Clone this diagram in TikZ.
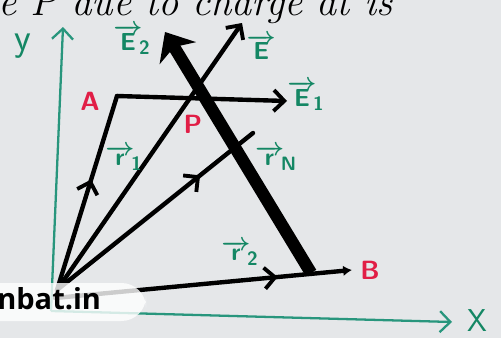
\documentclass[tikz,border=0pt]{standalone}
\usepackage{fontspec}
\newfontfamily\wmfont{Open Sans}
\usetikzlibrary{arrows.meta,decorations.markings}
\definecolor{bg}{RGB}{229,231,233}
\definecolor{axisgreen}{RGB}{40,150,125}
\definecolor{lblgreen}{RGB}{20,135,100}
\definecolor{lblred}{RGB}{225,30,70}
\newcommand\vlab[2]{$\overrightarrow{\mbox{#1}}_{\!\mbox{\fontsize{11}{12}\selectfont #2}}$}
\begin{document}
\begin{tikzpicture}[x=0.02cm,y=-0.02cm,
  axisline/.style={axisgreen, line width=1.3pt, -{Straight Barb[length=6pt,width=12pt,line width=1.3pt]}},
  vecline/.style={line width=2.5pt, line cap=round},
  tipbarb/.style={-{Straight Barb[length=6pt,width=12pt,line width=2.2pt]}},
  midarrow/.style={postaction=decorate, decoration={markings, mark=at position #1 with {\arrow{Straight Barb[length=6pt,width=12pt,line width=2.2pt]}}}},
  glabel/.style={lblgreen, font=\sffamily\bfseries\boldmath\fontsize{14}{16}\selectfont, inner sep=1pt},
  rlabel/.style={lblred, font=\sffamily\bfseries\fontsize{15}{17}\selectfont, inner sep=1pt},
]
\useasboundingbox (0,0) rectangle (501,338);
\fill[bg] (0,0) rectangle (501,338);
\clip (0,0) rectangle (501,338);

% handwritten heading, cut off at the top
\node[anchor=base west, inner sep=0pt, font=\itshape\fontsize{23}{25}\selectfont] (head) at (-2,15) {e P due to charge at is};

% coordinates
\coordinate (O) at (57,290);
\coordinate (O2) at (55,298);
\coordinate (yb) at (51,311);
\coordinate (yt) at (63,27);
\coordinate (xt) at (452,322);
\coordinate (A) at (117,96);
\coordinate (E1t) at (287,101);
\coordinate (Et) at (242,23);
\coordinate (RNt) at (253,133);
\coordinate (Bt) at (352,270);
\coordinate (Rb) at (311,273);
\coordinate (Rt) at (165,32);

% axes
\draw[axisline] (yb) -- (yt);
\draw[axisline] (yb) -- (xt);

% vectors
\draw[vecline, midarrow=0.57] (O) -- (A);
\draw[vecline, tipbarb] (A) -- (E1t);
\draw[vecline, tipbarb] (O) -- (Et);
\draw[vecline, midarrow=0.73] (O) -- (RNt);
\draw[vecline, midarrow=0.75, -{Latex[length=5pt,width=6pt]}] (O2) -- (Bt);

% thick E2 vector
\draw[line width=7pt, -{Stealth[length=14pt,width=24pt,inset=4pt]}] (Rb) -- (Rt);

% labels
\node[lblgreen, font=\sffamily\fontsize{22}{24}\selectfont] (ylab) at (23,46) {y};
\node[lblgreen, font=\sffamily\fontsize{18}{20}\selectfont] (xlab) at (477,321) {X};
\node[glabel] (e2lab) at (132,40) {\vlab{E}{2}};
\node[glabel] (elab) at (260,49) {\vlab{E}{}};
\node[glabel] (e1lab) at (306,96) {\vlab{E}{1}};
\node[glabel] (r1lab) at (124,158) {\vlab{r}{1}};
\node[glabel] (rNlab) at (276,158) {\vlab{r}{N}};
\node[glabel] (r2lab) at (240,253) {\vlab{r}{2}};
\node[rlabel] (alab) at (90,101) {A};
\node[rlabel] (plab) at (193,124) {P};
\node[rlabel] (blab) at (370,270) {B};

% watermark
\fill[white, opacity=0.8, rounded corners=14pt] (-40,283) rectangle (146,321);
\node[anchor=base west, inner sep=0pt, font=\wmfont\bfseries\fontsize{16.5}{18}\selectfont] (wm) at (-3,309) {nbat.in};
\end{tikzpicture}
\end{document}
